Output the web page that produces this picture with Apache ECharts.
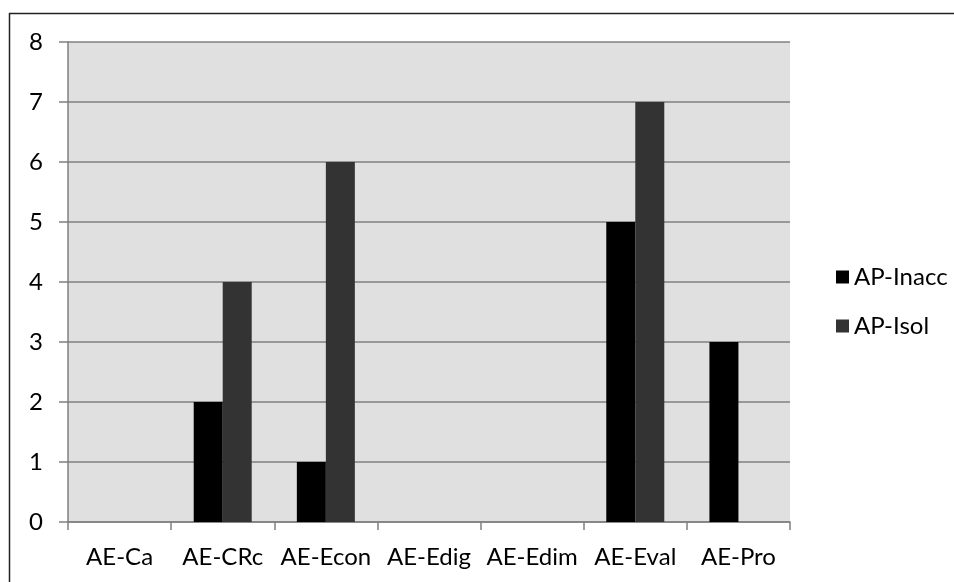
<!DOCTYPE html>
<html>
<head>
<meta charset="utf-8">
<script src="https://cdn.jsdelivr.net/npm/echarts@6/dist/echarts.min.js"></script>
<style>
  html, body { margin: 0; padding: 0; background: #fff; }
  #chart { width: 954px; height: 582px; }
</style>
</head>
<body>
<div id="chart"></div>
<script>
// Categories along the x axis
const categories = ['AE-Ca', 'AE-CRc', 'AE-Econ', 'AE-Edig', 'AE-Edim', 'AE-Eval', 'AE-Pro'];
// Series names
const seriesNames = ['AP-Inacc', 'AP-Isol'];
// Counts per category
const inaccValues = [0, 2, 1, 0, 0, 5, 3];
const isolValues = [0, 4, 6, 0, 0, 7, 0];
// Y axis range
const yMin = 0, yMax = 8, yStep = 1;

const FONT = 'Lato';
const chart = echarts.init(document.getElementById('chart'));

chart.setOption({
  backgroundColor: '#ffffff',
  animation: false,
  textStyle: { fontFamily: FONT },
  graphic: [
    // outer frame (top and left edges)
    { type: 'line', shape: { x1: 9, y1: 13.5, x2: 954, y2: 13.5 }, style: { stroke: '#222', lineWidth: 1.5 } },
    { type: 'line', shape: { x1: 9.5, y1: 13, x2: 9.5, y2: 582 }, style: { stroke: '#222', lineWidth: 1.5 } }
  ],
  grid: {
    left: 68, right: 164, top: 42, bottom: 60,
    show: true, backgroundColor: '#e0e0e0', borderWidth: 0
  },
  legend: {
    orient: 'vertical',
    left: 831, top: 260,
    itemWidth: 13, itemHeight: 13, itemGap: 25,
    icon: 'rect',
    textStyle: { fontFamily: FONT, fontSize: 24, color: '#000' },
    data: seriesNames
  },
  xAxis: {
    type: 'category',
    data: categories,
    axisLine: { lineStyle: { color: '#808080', width: 1.5 } },
    axisTick: { show: true, length: 8, lineStyle: { color: '#808080', width: 1.5 } },
    axisLabel: { fontFamily: FONT, fontSize: 24, color: '#000', margin: 23, interval: 0 },
    splitLine: { show: false }
  },
  yAxis: {
    type: 'value',
    min: yMin, max: yMax, interval: yStep,
    axisLine: { show: true, lineStyle: { color: '#808080', width: 1.5 } },
    axisTick: { show: true, length: 9, lineStyle: { color: '#808080', width: 1.5 } },
    axisLabel: { fontFamily: FONT, fontSize: 24, color: '#000', margin: 25 },
    splitLine: { show: true, lineStyle: { color: '#808080', width: 1.5 } }
  },
  series: [
    {
      name: seriesNames[0], type: 'bar', data: inaccValues,
      barWidth: 29, barGap: '0%',
      itemStyle: { color: '#000000' }
    },
    {
      name: seriesNames[1], type: 'bar', data: isolValues,
      barWidth: 29, barGap: '0%',
      itemStyle: { color: '#333333' }
    }
  ]
});
</script>
</body>
</html>
